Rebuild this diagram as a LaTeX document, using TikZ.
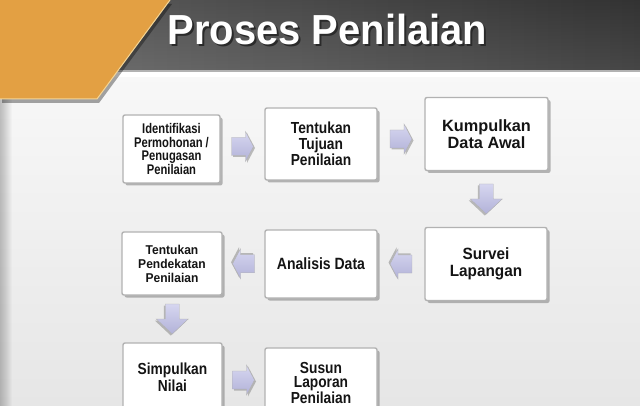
\documentclass[tikz,border=0pt]{standalone}
\usepackage{fontspec}
\setmainfont{Liberation Sans}
\newfontfamily\fsA[FakeStretch=0.8]{Liberation Sans}
\newfontfamily\fsB[FakeStretch=0.86]{Liberation Sans}
\newfontfamily\fsC[FakeStretch=0.94]{Liberation Sans}
\newfontfamily\fsT[FakeStretch=0.95]{Liberation Sans}
\usetikzlibrary{calc,shadows}
\definecolor{orng}{HTML}{E3A043}
\definecolor{orngedge}{HTML}{F4D595}
\definecolor{hdrL}{HTML}{707070}
\definecolor{hdrR}{HTML}{3C3C3C}
\definecolor{bgtop}{HTML}{F8F8F8}
\definecolor{bgbot}{HTML}{E6E6E6}
\definecolor{arrL}{HTML}{D6D6F0}
\definecolor{arrD}{HTML}{B2B2D8}
\definecolor{tshadow}{HTML}{2A2A2A}
\begin{document}
\begin{tikzpicture}[x=1pt,y=-1pt,
  box/.style={draw=gray!60, line width=1.4pt, fill=white, rounded corners=2pt,
    align=center, inner sep=0pt, text=black!92,
    drop shadow={shadow xshift=2.5pt,shadow yshift=-2.5pt,opacity=0.45,fill=black!60}},
  arrfill/.style={draw=gray!60, line width=0.4pt, top color=arrL, bottom color=arrD},
  arrshadow/.style={fill=black!50, opacity=0.5},
  barrowH/.pic={
    \fill[arrshadow,shift={(1.5,1.5)}] (-11,-9)--(3,-9)--(3,-15)--(11,0)--(3,15)--(3,9)--(-11,9)--cycle;
    \path[arrfill] (-11,-9)--(3,-9)--(3,-15)--(11,0)--(3,15)--(3,9)--(-11,9)--cycle;
  },
  barrowV/.pic={
    \fill[arrshadow,shift={(1.5,1.5)}] (-15,-7)--(0,-7)--(0,-16)--(15,0)--(0,16)--(0,7)--(-15,7)--cycle;
    \path[arrfill] (-15,-7)--(0,-7)--(0,-16)--(15,0)--(0,16)--(0,7)--(-15,7)--cycle;
  }
]
\useasboundingbox (0,0) rectangle (640,406);
% background
\fill[top color=bgtop, bottom color=bgbot] (0,72) rectangle (640,406);
\foreach \w in {1,...,12} {\fill[black, opacity=0.018] (0,72) rectangle (\w,406);}
\fill[white] (0,72) rectangle (640,77);
% header band
\fill[left color=hdrL, right color=hdrR] (0,0) rectangle (640,72);
\fill[top color=black, bottom color=white, opacity=0.08] (0,0) rectangle (640,72);
\fill[gray!60] (0,70) rectangle (640,72);
% orange shape
\fill[orng, drop shadow={shadow xshift=2pt, shadow yshift=-4pt, opacity=0.35, fill=black}]
  (0,0) -- (170,0) -- (97,99) -- (0,99) -- cycle;
\draw[orngedge, line width=1pt] (170,0) -- (97,99) -- (0,99);
% title (with its shadow in the same node)
\node[font=\fsT\fontsize{42}{44}\selectfont\bfseries, text=white, anchor=base] (title) at (327.5,45)
  {\rlap{\kern1.8pt\raisebox{-1.8pt}{\textcolor{tshadow}{Proses Penilaian}}}Proses Penilaian};

% boxes
\node[box, minimum width=97pt, minimum height=68pt, font=\fsA\fontsize{14}{13.4}\selectfont\bfseries] (b1) at (171.5,149)
  {Identifikasi\\Permohonan /\\Penugasan\\Penilaian};
\node[box, minimum width=112pt, minimum height=72pt, font=\fsB\fontsize{16}{15.8}\selectfont\bfseries] (b2) at (321,144)
  {Tentukan\\Tujuan\\Penilaian};
\node[box, minimum width=123pt, minimum height=73pt, font=\fontsize{16.3}{17}\selectfont\bfseries] (b3) at (486.5,134)
  {Kumpulkan\\Data Awal};
\node[box, minimum width=122pt, minimum height=73pt, font=\fsC\fontsize{16.3}{17}\selectfont\bfseries] (b4) at (486,264)
  {Survei\\Lapangan};
\node[box, minimum width=112pt, minimum height=68pt, font=\fsB\fontsize{16.3}{17}\selectfont\bfseries] (b5) at (321,264)
  {Analisis Data};
\node[box, minimum width=100pt, minimum height=63pt, font=\fsC\fontsize{12.8}{14}\selectfont\bfseries] (b6) at (172,263.5)
  {Tentukan\\Pendekatan\\Penilaian};
\node[box, minimum width=99pt, minimum height=68pt, font=\fsB\fontsize{16}{16.7}\selectfont\bfseries] (b7) at (172.5,377)
  {Simpulkan\\Nilai};
\node[box, minimum width=112pt, minimum height=70pt, font=\fsB\fontsize{16}{14.8}\selectfont\bfseries] (b8) at (321,383)
  {Susun\\Laporan\\Penilaian};

% block arrows
\path ($(b1.east)!0.5!(b2.west)$ |- b1.east) pic (a12) {barrowH};
\path ($(b2.east)!0.5!(b3.west)$) pic (a23) {barrowH};
\path ($(b3.south)!0.5!(b4.north)$) pic[rotate=-90] (a34) {barrowV};
\path ($(b4.west)!0.5!(b5.east)$) pic[rotate=180] (a45) {barrowH};
\path ($(b5.west)!0.5!(b6.east)$) pic[rotate=180] (a56) {barrowH};
\path ($(b6.south)!0.5!(b7.north)$) pic[rotate=-90] (a67) {barrowV};
\path ($(b7.east)!0.5!(b8.west)$ |- b7.east) pic (a78) {barrowH};
\end{tikzpicture}
\end{document}
